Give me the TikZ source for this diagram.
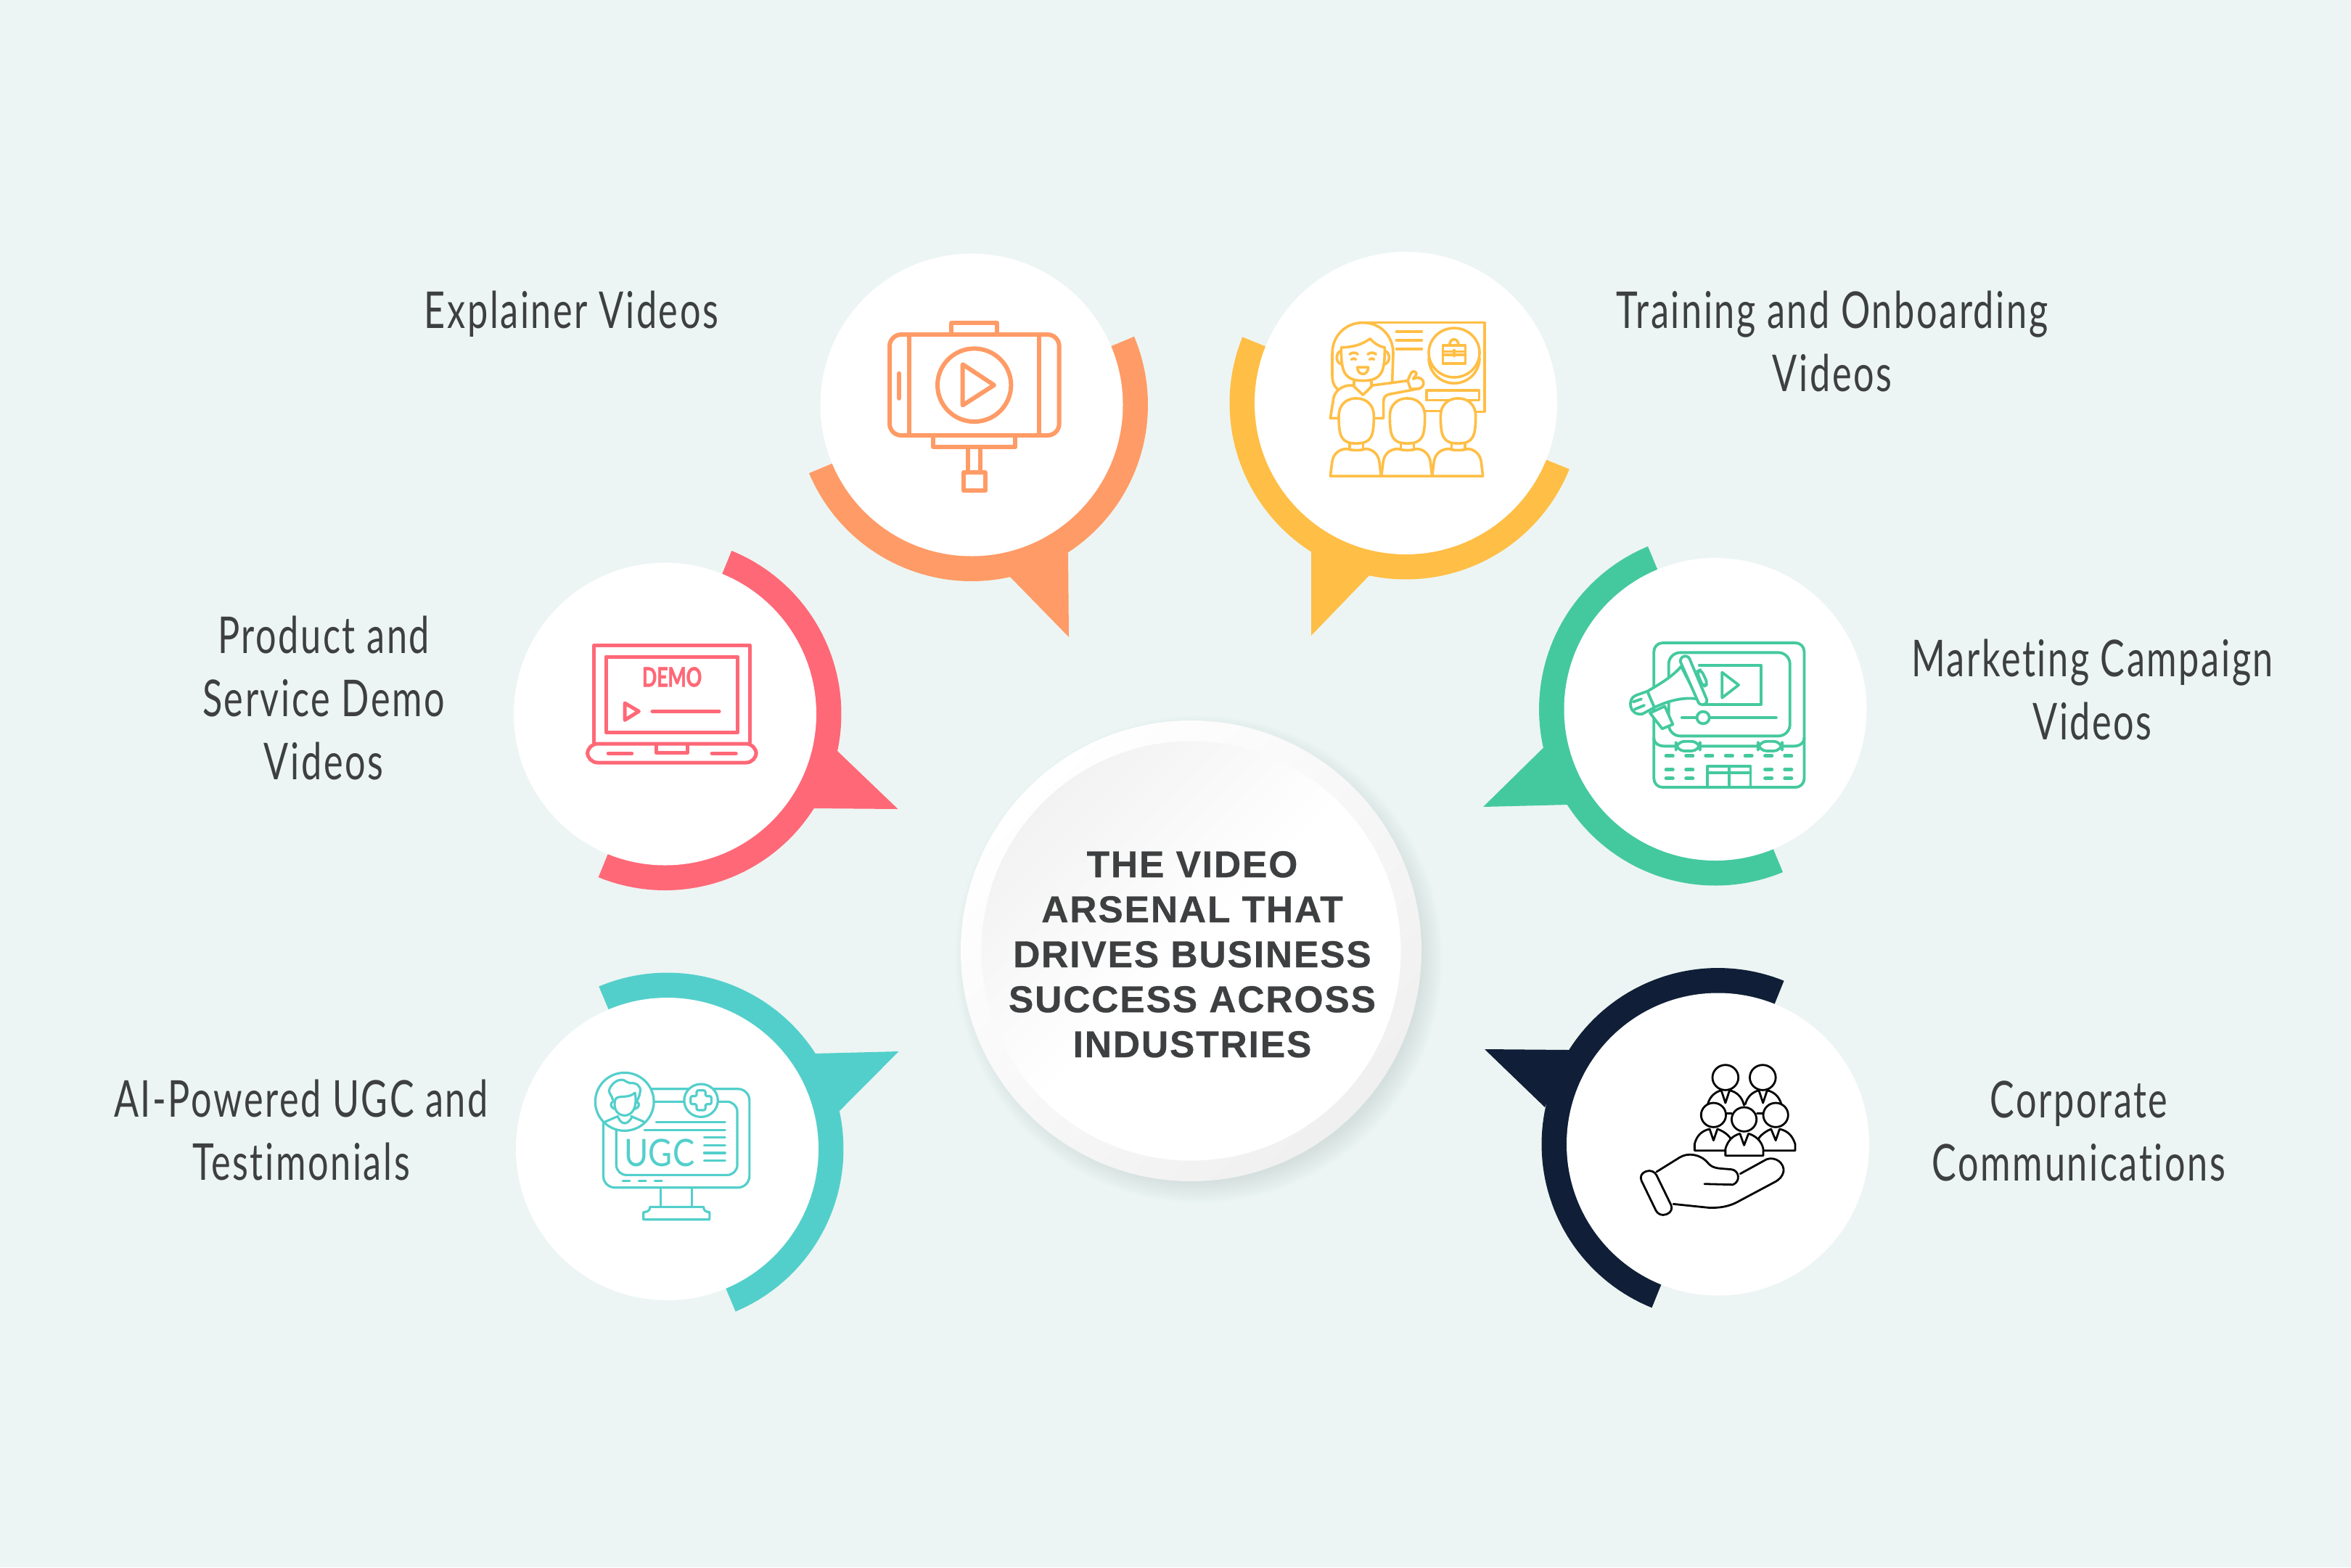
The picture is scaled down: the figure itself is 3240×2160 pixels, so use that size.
\documentclass[tikz,border=0pt]{standalone}
\usepackage{fontspec}
\setmainfont{Liberation Sans}
\newfontfamily\condfont[FakeStretch=0.72,LetterSpace=3.7,Ligatures=NoCommon]{Lato}
\newfontfamily\hubfont[LetterSpace=3.5,BoldFeatures={FakeBold=0.5}]{Liberation Sans}
\newfontfamily\demofont[FakeStretch=0.72,BoldFeatures={FakeBold=1.5}]{Lato}
\newfontfamily\ugcfont[FakeStretch=0.87]{Lato}
\definecolor{bgc}{HTML}{ECF5F3}
\definecolor{orangec}{HTML}{FF9B66}
\definecolor{yellowc}{HTML}{FFBE45}
\definecolor{pinkc}{HTML}{FF6877}
\definecolor{greenc}{HTML}{44C99E}
\definecolor{tealc}{HTML}{53CFCB}
\definecolor{navyc}{HTML}{101F37}
\definecolor{txtc}{HTML}{3D3F40}
\definecolor{shadowc}{HTML}{A9C2C0}
\tikzset{
  whitedisc/.style={circle,fill=white,minimum size=208.5pt,inner sep=0pt,outer sep=0pt},
  sidelabel/.style={text=txtc,align=center,inner sep=0pt,anchor=base,
    font=\condfont\fontsize{35}{43.5}\selectfont},
  hubtext/.style={text=txtc,align=center,inner sep=0pt,anchor=base,
    font=\hubfont\bfseries\fontsize{25.8}{31}\selectfont},
  ic/.style={draw,line cap=round,line join=round},
  icw/.style={ic,fill=white},
}
\newcommand\earc[7][]{\draw[#1] plot[domain=#6:#7,samples=32,variable=\t]({#2+#4*cos(\t)},{#3+#5*sin(\t)});}
\newcommand\bubble[7]{%
  \fill[#2] plot[domain=#5:#6,samples=90,variable=\t]({#3+243*cos(\t)},{#4+243*sin(\t)}) -- cycle;
  \fill[#2] #7 -- cycle;
  \node[whitedisc] (#1) at (#3,#4) {};}
\begin{document}
\begin{tikzpicture}[x=0.5pt,y=-0.5pt]
\useasboundingbox (0,0) rectangle (3240,2160);
\fill[bgc] (0,0) rectangle (3240,2160);

% bubbles
\bubble{explainer}{orangec}{1339}{558}{-22.8}{157.2}{(1472,762) -- (1473,878) -- (1392,795)}
\bubble{training}{yellowc}{1937.5}{555.5}{22}{202}{(1807,760) -- (1807,876) -- (1887,793)}
\bubble{demo}{pinkc}{916.5}{984}{-67.8}{112.2}{(1154,1035) -- (1237.5,1115) -- (1121,1114)}
\bubble{marketing}{greenc}{2364}{977.5}{67.5}{247.5}{(2127.5,1030) -- (2044,1112) -- (2161,1109)}
\bubble{ugc}{tealc}{919.5}{1583.5}{-112.8}{67.2}{(1123,1452) -- (1238.6,1449) -- (1157,1531)}
\bubble{corporate}{navyc}{2367.5}{1577}{112}{292}{(2163,1447) -- (2046,1446) -- (2129,1526)}

% hub
\foreach \r in {0,3,...,30}{\fill[shadowc,fill opacity=0.03] (1652,1322) circle ({317.5+\r-12});}
\node[circle,minimum size=317.5pt,inner sep=0pt,top color=white,bottom color=black!6,shading angle=45] (hub) at (1641.5,1310.5) {};
\node[circle,minimum size=289pt,inner sep=0pt,top color=black!5,bottom color=white,middle color=white,shading angle=45] (hubin) at (hub.center) {};
\node[hubtext] (title) at (1643,1457) {THE VIDEO\\ARSENAL THAT\\DRIVES BUSINESS\\SUCCESS ACROSS\\INDUSTRIES};

% labels (anchor is the baseline of the last line)
\node[sidelabel] (l1) at (787.5,452) {Explainer Videos};
\node[sidelabel] (l2) at (2525,539) {Training and Onboarding\\Videos};
\node[sidelabel] (l3) at (446,1074) {Product and\\Service Demo\\Videos};
\node[sidelabel] (l4) at (2883.5,1019) {Marketing Campaign\\Videos};
\node[sidelabel] (l5) at (415,1626) {AI-Powered UGC and\\Testimonials};
\node[sidelabel] (l6) at (2865,1627) {Corporate\\Communications};

% icon 1: phone on stick
\begin{scope}[shift={(1100,330)},x=0.16667pt,y=-0.17857pt,orangec,line width=3pt]
\draw[ic,rounded corners=8pt] (378,367) rectangle (1079,756);
\draw[ic] (459,367) -- (459,756) (996,367) -- (996,756);
\draw[ic] (634,367) -- (634,322) -- (822,322) -- (822,367);
\draw[ic] (558,756) -- (558,800) -- (898,800) -- (898,756);
\draw[ic] (703,800) -- (703,900) (753,800) -- (753,900);
\draw[ic] (684,900) rectangle (773,970);
\draw[ic] (728,562) circle[x radius=152,y radius=141];
\draw[ic] (680,482) -- (810,562) -- (680,640) -- cycle;
\draw[ic] (418,517) -- (418,613);
\end{scope}

% icon 2: trainer
\begin{scope}[shift={(1680,330)},x=0.16667pt,y=-0.17857pt,yellowc,line width=1.8pt]
\draw[ic] (600,321) -- (1097,321) -- (1097,665) -- (1060,665);
\draw[ic] (850,662) -- (915,662);
\draw[ic] (733,355) -- (838,355) (733,389) -- (838,389) (733,422) -- (838,422);
\draw[ic] (858,583) rectangle (1075,620);
\earc[ic]{972}{458}{105}{97}{0}{180}
\draw[icw] (972,437) circle[x radius=105,y radius=95];
\draw[ic] (925,408) rectangle (1018,478);
\draw[ic] (925,432) -- (1018,432) (925,445) -- (1018,445) (972,427) -- (972,450);
\draw[ic] (953,408) .. controls (953,378) and (990,378) .. (990,408);
% hair
\draw[ic] (490,578) .. controls (470,560) and (468,545) .. (468,520) -- (468,440) .. controls (468,370) and (525,321) .. (595,321) .. controls (665,321) and (720,370) .. (720,440) -- (716,548);
% face
\draw[icw] (505,417) .. controls (560,415) and (590,405) .. (625,383) .. controls (640,400) and (660,412) .. (685,417) .. controls (685,500) and (680,545) .. (595,545) .. controls (510,545) and (505,500) .. (505,417) -- cycle;
\draw[ic] (505,430) .. controls (480,435) and (480,480) .. (510,482);
\draw[ic] (685,430) .. controls (710,435) and (710,480) .. (680,482);
\draw[ic] (540,443) .. controls (550,435) and (565,435) .. (574,443);
\draw[ic] (615,443) .. controls (625,435) and (640,435) .. (649,443);
\draw[ic] (547,463) .. controls (552,458) and (561,458) .. (566,463);
\draw[ic] (622,463) .. controls (627,458) and (636,458) .. (641,463);
\draw[ic] (572,493) -- (617,493) .. controls (617,528) and (572,528) .. (572,493) -- cycle;
\draw[ic] (558,545) -- (558,565) (630,545) -- (630,565);
\draw[ic] (553,563) -- (595,600) -- (635,563) -- (780,545);
\draw[ic] (780,545) .. controls (785,535) and (790,520) .. (797,512) .. controls (805,505) and (820,512) .. (815,522) -- (803,538) .. controls (840,520) and (862,560) .. (830,575) -- (792,578) -- (780,545);
\draw[ic] (830,575) -- (700,598) .. controls (688,602) and (680,610) .. (680,625) -- (680,690) -- (645,690);
\draw[ic] (553,563) .. controls (510,560) and (475,585) .. (472,620) -- (460,690) -- (495,690);
% students
\foreach \dx in {0,211,421}{
  \begin{scope}[xshift=\dx*0.16667pt]
  \draw[icw] (460,913) -- (468,855) .. controls (475,820) and (505,808) .. (530,808) .. controls (545,815) and (590,815) .. (605,808) .. controls (635,808) and (660,830) .. (663,860) -- (670,913) -- cycle;
  \draw[ic] (540,787) -- (540,808) (595,787) -- (595,808);
  \draw[icw] (495,680) .. controls (495,640) and (525,613) .. (567,613) .. controls (610,613) and (640,640) .. (640,680) .. controls (640,760) and (630,787) .. (567,787) .. controls (505,787) and (495,760) .. (495,680) -- cycle;
  \end{scope}}
\end{scope}

% icon 3: demo laptop
\begin{scope}[shift={(700,760)},x=0.17857pt,y=-0.16667pt,pinkc,line width=2.5pt]
\draw[ic] (333,790) -- (333,387) -- (933,387) -- (933,790);
\draw[ic] (378,435) rectangle (886,748);
\draw[ic] (451,627) -- (505,661) -- (451,697) -- cycle;
\draw[ic] (557,661) -- (815,661);
\draw[ic,rounded corners=7pt] (307,795) -- (958,795) -- (958,873) -- (307,873) -- cycle;
\draw[ic] (572,800) -- (572,833) -- (693,833) -- (693,800);
\draw[ic] (387,835) -- (478,835) (787,835) -- (880,835);
\node[inner sep=0pt,text=pinkc,font=\demofont\bfseries\fontsize{18.5}{18.5}\selectfont] (demotxt) at (633,519) {DEMO};
\end{scope}

% icon 4: marketing
\begin{scope}[shift={(2040,760)},x=0.17857pt,y=-0.16667pt,greenc,line width=1.9pt]
\draw[ic,rounded corners=6pt] (670,975) -- (670,378) -- (1250,378) -- (1250,975) -- cycle;
\draw[ic,rounded corners=8pt] (727,418) rectangle (1195,763);
\draw[ic] (670,770) .. controls (670,795) and (690,805) .. (710,805) -- (1210,805) .. controls (1230,805) and (1250,795) .. (1250,770);
\draw[icw,rounded corners=6pt] (755,785) rectangle (848,825);
\draw[icw,rounded corners=6pt] (1072,785) rectangle (1165,825);
\foreach \kx in {730,807,883,960,1035,1112,1188}{\draw[ic,line width=2.4pt] (\kx-13,845) -- (\kx+13,845);}
\foreach \kx in {730,807,1112,1188}{\draw[ic,line width=2.4pt] (\kx-13,902) -- (\kx+13,902) (\kx-13,938) -- (\kx+13,938);}
\draw[ic] (877,975) -- (877,888) -- (1043,888) -- (1043,975);
\draw[ic] (960,888) -- (960,975) (877,915) -- (1043,915);
\draw[ic] (845,470) -- (1083,470) -- (1083,633) -- (860,633);
\draw[ic] (933,500) -- (997,552) -- (933,605) -- cycle;
\draw[ic] (778,687) -- (835,687) (885,687) -- (1142,687);
\draw[ic] (860,687) circle[x radius=24,y radius=25];
% megaphone
\draw[icw] (655,668) -- (702,733) -- (743,715) -- (712,640) -- cycle;
\draw[icw] (645,578) -- (600,595) .. controls (565,610) and (575,680) .. (625,672) -- (672,645) -- cycle;
\draw[ic] (590,622) -- (622,610) (595,653) -- (633,636);
\draw[icw] (775,475) .. controls (745,515) and (690,550) .. (645,578) -- (672,645) .. controls (720,620) and (780,600) .. (840,610) -- cycle;
\draw[icw,rounded corners=3pt] (835,497) -- (852,488) -- (878,548) -- (860,560) -- cycle;
\draw[icw] (772,455) .. controls (772,428) and (805,425) .. (810,450) -- (874,612) .. controls (878,640) and (845,640) .. (840,620) -- cycle;
\end{scope}

% icon 5: UGC
\begin{scope}[shift={(700,1340)},x=0.17857pt,y=-0.16667pt,tealc,line width=1.6pt]
\draw[ic,rounded corners=8pt] (553,482) -- (932,482) -- (932,890) -- (368,890) -- (368,620);
\draw[ic,rounded corners=7pt] (418,650) -- (418,838) -- (885,838) -- (885,535) -- (565,535);
\draw[ic] (443,863) -- (470,863) (505,863) -- (532,863) (567,863) -- (594,863);
\draw[ic] (590,890) -- (590,970) (710,890) -- (710,970);
\draw[ic] (523,1022) -- (523,992) .. controls (540,990) and (548,985) .. (548,970) -- (755,970) .. controls (755,985) and (763,990) .. (778,992) -- (778,1022) -- cycle;
\draw[icw] (450,535) circle[x radius=113,y radius=120];
\draw[ic] (405,528) .. controls (402,510) and (392,505) .. (390,490) .. controls (395,465) and (420,440) .. (445,445) .. controls (455,450) and (460,455) .. (470,458) .. controls (495,455) and (515,470) .. (510,495) .. controls (508,515) and (500,525) .. (495,540);
\draw[ic] (412,540) .. controls (412,505) and (440,520) .. (470,510) .. controls (480,507) and (488,500) .. (490,498) .. controls (497,530) and (495,590) .. (450,592) .. controls (420,590) and (410,565) .. (412,540);
\draw[ic] (405,535) .. controls (393,540) and (395,560) .. (412,565);
\draw[ic] (497,535) .. controls (510,540) and (508,560) .. (490,565);
\draw[ic] (375,618) -- (425,595) (475,595) -- (525,618);
\draw[ic] (425,600) .. controls (440,632) and (460,632) .. (478,600);
\draw[icw] (745,530) circle[x radius=65,y radius=68];
\draw[ic,rounded corners=1.2pt] (728,488) -- (762,488) -- (762,512) -- (785,512) -- (785,545) -- (762,545) -- (762,570) -- (728,570) -- (728,545) -- (705,545) -- (705,512) -- (728,512) -- cycle;
\draw[ic] (572,620) -- (838,620) (527,652) -- (838,652);
\draw[ic] (757,683) -- (838,683) (757,715) -- (838,715) (757,747) -- (838,747) (757,778) -- (838,778);
\node[inner sep=0pt,text=tealc,font=\ugcfont\fontsize{26}{26}\selectfont] (ugctxt) at (585,746) {UGC};
\end{scope}

% icon 6: hand with people
\begin{scope}[shift={(2040,1320)},x=0.17857pt,y=-0.16667pt,black,line width=1.4pt]
\draw[ic] (878,605) .. controls (885,575) and (905,555) .. (930,548) -- (946,600) -- (962,548) .. controls (990,555) and (1010,575) .. (1018,610);
\draw[ic] (1023,605) .. controls (1030,575) and (1050,555) .. (1075,548) -- (1091,600) -- (1107,548) .. controls (1135,555) and (1155,575) .. (1163,610);
\draw[icw] (946,495) circle[x radius=50,y radius=52];
\draw[icw] (1090,495) circle[x radius=50,y radius=52];
\draw[ic] (950,643) -- (970,643) (1068,643) -- (1090,643);
\draw[icw] (827,797) -- (827,770) .. controls (835,735) and (855,715) .. (885,708) -- (900,755) -- (915,708) .. controls (935,715) and (955,730) .. (965,745) -- (965,797) -- cycle;
\draw[icw] (1215,797) -- (1215,770) .. controls (1205,735) and (1185,715) .. (1155,708) -- (1140,755) -- (1122,708) .. controls (1105,715) and (1085,730) .. (1075,745) -- (1075,797) -- cycle;
\draw[icw] (900,650) circle[x radius=48,y radius=50];
\draw[icw] (1140,650) circle[x radius=48,y radius=50];
\draw[icw] (946,818) -- (946,790) .. controls (955,755) and (975,735) .. (1002,727) -- (1018,775) -- (1035,727) .. controls (1060,735) and (1085,755) .. (1092,790) -- (1092,818) -- cycle;
\draw[icw] (1018,668) circle[x radius=48,y radius=50];
\draw[ic,rounded corners=5pt] (610,895) -- (668,872) -- (748,1048) -- (690,1072) -- cycle;
\draw[ic] (680,885) -- (770,825) .. controls (800,805) and (850,810) .. (880,850) .. controls (900,875) and (930,870) .. (970,875) .. controls (1000,880) and (1005,925) .. (975,938) -- (865,935);
\draw[ic] (1003,893) -- (1105,833) .. controls (1140,820) and (1175,850) .. (1170,885) .. controls (1165,905) and (1155,915) .. (1140,925) -- (1000,1005) .. controls (960,1030) and (920,1035) .. (880,1033) -- (745,1018);
\end{scope}
\end{tikzpicture}
\end{document}
